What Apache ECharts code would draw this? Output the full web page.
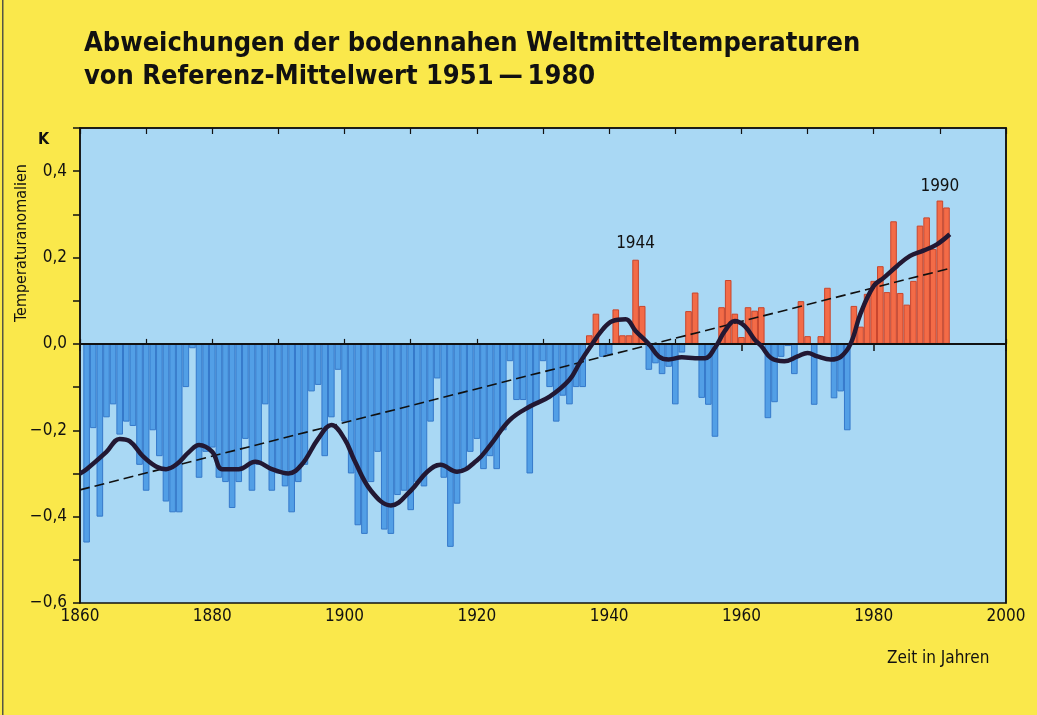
<!DOCTYPE html>
<html>
<head>
<meta charset="utf-8">
<title>Abweichungen der bodennahen Weltmitteltemperaturen</title>
<script src="https://cdn.jsdelivr.net/npm/echarts/dist/echarts.min.js"></script>
<style>
  html, body { margin: 0; padding: 0; background: #fae84b; }
  #chart { width: 1037px; height: 715px; }
</style>
</head>
<body>
<div id="chart"></div>
<script>
// Jahresanomalien (K), ab 1861, gegen Mittel 1951-1980
var firstYear = 1861;
var a1860s = [-0.46, -0.195, -0.40, -0.17, -0.14, -0.21, -0.18, -0.19, -0.28];
var a1870s = [-0.34, -0.20, -0.26, -0.365, -0.39, -0.39, -0.10, -0.01, -0.31, -0.25];
var a1880s = [-0.24, -0.31, -0.32, -0.38, -0.32, -0.22, -0.34, -0.28, -0.14, -0.34];
var a1890s = [-0.30, -0.33, -0.39, -0.32, -0.28, -0.11, -0.095, -0.26, -0.17, -0.06];
var a1900s = [-0.18, -0.30, -0.42, -0.44, -0.32, -0.25, -0.43, -0.44, -0.35, -0.34];
var a1910s = [-0.385, -0.32, -0.33, -0.18, -0.08, -0.31, -0.47, -0.37, -0.29, -0.25];
var a1920s = [-0.22, -0.29, -0.26, -0.29, -0.20, -0.04, -0.13, -0.13, -0.30, -0.14];
var a1930s = [-0.04, -0.10, -0.18, -0.12, -0.14, -0.10, -0.10, 0.02, 0.07, -0.03];
var a1940s = [-0.025, 0.08, 0.02, 0.02, 0.195, 0.088, -0.06, -0.045, -0.07, -0.053];
var a1950s = [-0.14, -0.02, 0.076, 0.119, -0.125, -0.141, -0.215, 0.085, 0.148, 0.07];
var a1960s = [0.016, 0.085, 0.077, 0.085, -0.172, -0.135, -0.03, -0.005, -0.07, 0.099];
var a1970s = [0.018, -0.141, 0.018, 0.13, -0.126, -0.11, -0.20, 0.088, 0.04, 0.116];
var a1980s = [0.146, 0.18, 0.12, 0.284, 0.118, 0.091, 0.146, 0.274, 0.293, 0.22];
var a1990s = [0.332, 0.316];

// geglaettete Kurve
var curveYears = [1860, 1861, 1864, 1866, 1867.5, 1869.5, 1871.5, 1873, 1874.5, 1876.5,
  1878, 1880, 1881.5, 1884, 1886.5, 1889, 1891.5, 1893.5, 1896, 1898,
  1900, 1901.5, 1904, 1907, 1910, 1912.5, 1914.5, 1917, 1920, 1922,
  1925, 1928, 1931, 1934, 1935.5, 1937, 1939, 1940.5, 1942.5, 1944,
  1946, 1947.5, 1949, 1951, 1953, 1954.5, 1956, 1957.5, 1959, 1960.5,
  1962, 1963, 1964.5, 1966.5, 1968.5, 1970, 1971.5, 1973.5, 1975, 1976.5,
  1978, 1980, 1981.5, 1983.5, 1985.5, 1987.5, 1989.5, 1991.5];
var curveValues = [-0.30, -0.29, -0.25, -0.22, -0.225, -0.26, -0.284, -0.29, -0.28, -0.25,
  -0.234, -0.25, -0.29, -0.29, -0.273, -0.29, -0.30, -0.28, -0.22, -0.188,
  -0.22, -0.27, -0.34, -0.374, -0.34, -0.296, -0.28, -0.296, -0.27, -0.235,
  -0.176, -0.145, -0.122, -0.083, -0.045, -0.01, 0.033, 0.053, 0.057, 0.03,
  0.0, -0.029, -0.036, -0.031, -0.033, -0.033, -0.009, 0.03, 0.053, 0.041,
  0.01, -0.005, -0.033, -0.04, -0.029, -0.021, -0.029, -0.036, -0.03, 0.0,
  0.07, 0.134, 0.153, 0.18, 0.204, 0.216, 0.23, 0.254];

// lineare Trendlinie (gestrichelt)
var trendYears = [1860, 1991.5];
var trendValues = [-0.338, 0.175];

var labeledYears = [1944, 1990];

var FONT = '"DejaVu Sans Condensed", "Liberation Sans Narrow", sans-serif';
var BLUE = { color: '#529fe6', borderColor: '#3579ca', borderWidth: 1 };
var RED = { color: '#f36b47', borderColor: '#c9462d', borderWidth: 1 };

var anomalies = [].concat(a1860s, a1870s, a1880s, a1890s, a1900s, a1910s, a1920s,
  a1930s, a1940s, a1950s, a1960s, a1970s, a1980s, a1990s);

var barData = anomalies.map(function (v, i) {
  var year = firstYear + i;
  var item = { value: [year, v], itemStyle: v >= 0 ? RED : BLUE };
  if (labeledYears.indexOf(year) >= 0) {
    item.label = {
      show: true, position: 'top', distance: year === 1990 ? 5 : 8,
      formatter: String(year), color: '#111', fontSize: 17, fontFamily: FONT
    };
  }
  return item;
});
var curveData = curveYears.map(function (y, i) { return [y, curveValues[i]]; });
var trendData = trendYears.map(function (y, i) { return [y, trendValues[i]]; });

function fmtY(v) {
  var r = Math.round(v * 10);
  if (r % 2 !== 0) return '';
  var s = Math.abs(r / 10).toFixed(1).replace('.', ',');
  return r < 0 ? '\u2212' + s : s;
}

var axisLine = { show: true, lineStyle: { color: '#111', width: 1.5 } };

var chart = echarts.init(document.getElementById('chart'));
chart.setOption({
  backgroundColor: '#fae84b',
  animation: false,
  title: {
    text: 'Abweichungen der bodennahen Weltmitteltemperaturen\nvon Referenz-Mittelwert 1951\u2009\u2014\u20091980',
    left: 79, top: 22,
    textStyle: { fontFamily: FONT, fontWeight: 'bold', fontSize: 27, lineHeight: 33, color: '#111' }
  },
  grid: {
    left: 80, right: 31, top: 128, bottom: 112,
    show: true, backgroundColor: '#a9d8f4', borderColor: '#111', borderWidth: 1.5
  },
  xAxis: [
    {
      type: 'value', position: 'bottom', min: 1860, max: 2000, interval: 20,
      axisLine: axisLine,
      axisTick: { show: true, length: 7, lineStyle: { color: '#111', width: 1.5 } },
      axisLabel: { color: '#111', fontSize: 17, fontFamily: FONT, margin: 5,
        formatter: function (v) { return String(v); } },
      splitLine: { show: false }
    },
    {
      type: 'value', position: 'bottom', min: 1860, max: 2000, interval: 10,
      axisLine: { show: false },
      axisTick: { show: true, inside: true, length: 5, lineStyle: { color: '#111', width: 1.2 } },
      axisLabel: { show: false }, splitLine: { show: false }
    },
    {
      type: 'value', position: 'top', min: 1860, max: 2000, interval: 10,
      axisLine: axisLine,
      axisTick: { show: true, inside: true, length: 6, lineStyle: { color: '#111', width: 1.2 } },
      axisLabel: { show: false }, splitLine: { show: false }
    }
  ],
  yAxis: [
    {
      type: 'value', position: 'left', min: -0.6, max: 0.5, interval: 0.1,
      axisLine: axisLine,
      axisTick: { show: true, length: 7, lineStyle: { color: '#111', width: 1.5 } },
      axisLabel: { color: '#111', fontSize: 17, fontFamily: FONT, margin: 13, formatter: fmtY },
      splitLine: { show: false }
    },
    {
      type: 'value', position: 'right', min: -0.6, max: 0.5, interval: 0.1,
      axisLine: axisLine, axisTick: { show: false }, axisLabel: { show: false },
      splitLine: { show: false }
    }
  ],
  series: [
    {
      type: 'bar', xAxisIndex: 0, yAxisIndex: 0, barWidth: 6.6,
      data: barData,
      markLine: {
        silent: true, symbol: 'none', label: { show: false },
        lineStyle: { color: '#111', width: 2, type: 'solid' },
        data: [{ yAxis: 0 }]
      }
    },
    {
      type: 'line', xAxisIndex: 0, yAxisIndex: 0, data: trendData,
      symbol: 'none', z: 4,
      lineStyle: { color: '#111', width: 1.6, type: [10, 5] }
    },
    {
      type: 'line', xAxisIndex: 0, yAxisIndex: 0, data: curveData,
      symbol: 'none', smooth: 0.4, z: 5,
      lineStyle: { color: '#221833', width: 4.5 }
    }
  ],
  graphic: [
    { type: 'rect', shape: { x: 2, y: 0, width: 1.5, height: 715 }, style: { fill: '#555544' } },
    { type: 'text', x: 38, y: 132, style: { text: 'K', font: 'bold 16px ' + FONT, fill: '#111' } },
    {
      type: 'text', x: 22, y: 243, rotation: Math.PI / 2,
      style: { text: 'Temperaturanomalien', font: '16px ' + FONT, fill: '#111',
        textAlign: 'center', textVerticalAlign: 'middle' }
    },
    { type: 'text', x: 887, y: 650, style: { text: 'Zeit in Jahren', font: '17px ' + FONT, fill: '#111' } }
  ]
});
</script>
</body>
</html>
